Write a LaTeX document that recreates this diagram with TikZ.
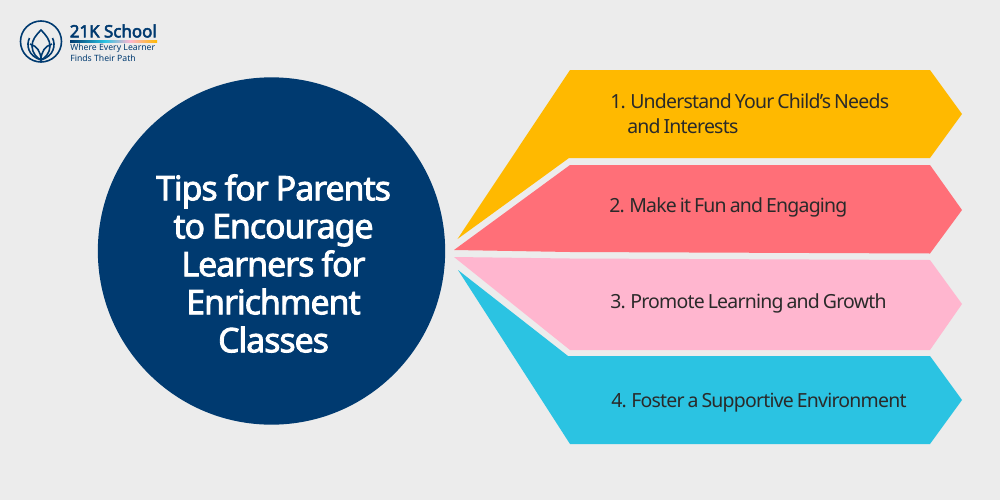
\documentclass[tikz,border=0pt]{standalone}
\usepackage{fontspec}
\setmainfont{Noto Sans}
\newfontfamily\tight[LetterSpace=-4,WordSpace=0.7]{Noto Sans}
\newfontfamily\tightbold[LetterSpace=-3,WordSpace=0.9,FakeBold=2.4]{Noto Sans}
\newfontfamily\brandfont[FakeBold=3]{Noto Sans}
\usetikzlibrary{shadings}
\definecolor{bgc}{HTML}{ECECEC}
\definecolor{navy}{HTML}{003A70}
\definecolor{ca}{HTML}{FFB900}
\definecolor{cb}{HTML}{FF6F78}
\definecolor{cc}{HTML}{FFB6CF}
\definecolor{cd}{HTML}{2BC3E2}
\definecolor{ink}{HTML}{2A2A2A}
\tikzset{
  item/.style={font=\tight\fontsize{14.6}{20}\selectfont,text=ink,anchor=base west,inner sep=0pt,align=left},
  logoline/.style={draw=navy,line width=1.2pt},
  logotext/.style={text=navy,anchor=west,inner sep=0pt,align=left}
}
\begin{document}
\begin{tikzpicture}[x=0.75pt,y=-0.75pt]
\useasboundingbox (0,0) rectangle (1000,500);
\fill[bgc] (0,0) rectangle (1000,500);
\node[circle,fill=navy,minimum size=260.5pt,inner sep=0pt] (hub) at (271.5,251) {};
\node[text=white,align=center,inner sep=0pt,font=\tightbold\fontsize{25.4}{28.5}\selectfont] (title) at (273.5,263.5)
 {Tips for Parents\\to Encourage\\Learners for\\Enrichment\\Classes};
\fill[ca] (457.5,239) -- (570,70) -- (930,70) -- (962,114) -- (930,158) -- (569,158) -- cycle;
\fill[cb] (454,250) -- (570,165) -- (930,165) -- (962,210) -- (930,253.5) -- (570,252) -- cycle;
\fill[cc] (454,257) -- (570,258.5) -- (930,260) -- (962,304) -- (930,350) -- (570,350) -- cycle;
\fill[cd] (458,270) -- (568,356) -- (930,356) -- (962,400) -- (930,444) -- (570,444) -- cycle;
\node[item] (t1) at (610,108) {1. Understand Your Child’s Needs};
\node[item] (t1b) at (627,133) {and Interests};
\node[item] (t2) at (609,212) {2. Make it Fun and Engaging};
\node[item] (t3) at (610,308) {3. Promote Learning and Growth};
\node[item] (t4) at (611,407) {4. Foster a Supportive Environment};
% logo
\draw[logoline] (41,41.5) circle (20.5);
\draw[logoline] (41,30) .. controls (36,35) and (32,40) .. (32,46) .. controls (32,53) and (37,58) .. (41,60) .. controls (45,58) and (50,53) .. (50,46) .. controls (50,40) and (46,35) .. (41,30) -- cycle;
\draw[logoline] (29.5,38) .. controls (26,45) and (28,56) .. (41,60) .. controls (54,56) and (56,45) .. (52.5,38);
\draw[logoline] (30,44) .. controls (37,46) and (41,52) .. (41,60) .. controls (41,52) and (45,46) .. (52,44);
\node[logotext,font=\brandfont\fontsize{12.7}{14}\selectfont] (brand) at (69.5,31) {21K School};
\shade[left color=navy,right color=cd] (70,40.5) rectangle (105,42.5);
\shade[left color=cd,right color=cc] (105,40.5) rectangle (130,42.5);
\shade[left color=cc,right color=ca] (130,40.5) rectangle (157,42.5);
\node[logotext,font=\fontsize{6.5}{8.2}\selectfont] (tag) at (70,53) {Where Every Learner\\Finds Their Path};
\end{tikzpicture}
\end{document}
